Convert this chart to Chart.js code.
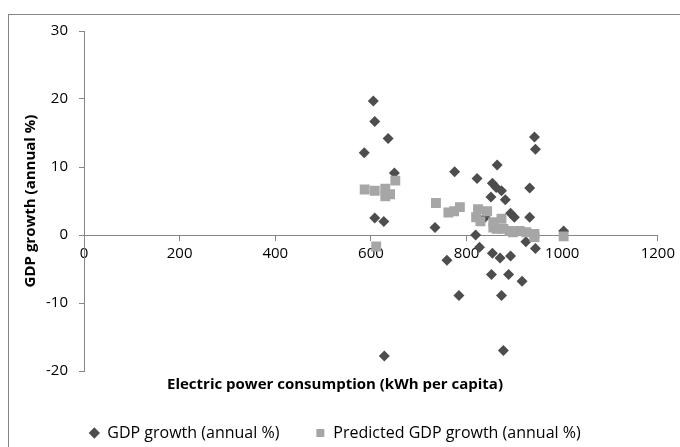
<!DOCTYPE html>
<html>
<head>
<meta charset="utf-8">
<script src="https://cdn.jsdelivr.net/npm/chart.js@4/dist/chart.umd.min.js"></script>
<style>
  html, body { margin: 0; padding: 0; background: #ffffff; }
  #wrap { width: 680px; height: 447px; }
</style>
</head>
<body>
<div id="wrap"><canvas id="chartjs-0"></canvas></div>
<script>
// GDP growth (annual %) vs electric power consumption (kWh per capita)
var gdpX = [605, 608, 636, 586, 649, 608, 627, 628, 775, 734, 759, 784, 822, 819, 827, 864, 854, 862, 873, 851, 881, 839, 892, 900, 854, 870, 892, 852, 888, 916, 873, 877, 942, 944, 932, 932, 924, 944, 1003];
var gdpY = [19.7, 16.7, 14.2, 12.1, 9.1, 2.5, 2.0, -17.8, 9.3, 1.1, -3.7, -8.9, 8.3, 0.0, -1.8, 10.3, 7.6, 7.0, 6.5, 5.6, 5.2, 2.6, 3.2, 2.6, -2.7, -3.4, -3.1, -5.8, -5.8, -6.8, -8.9, -17.0, 14.4, 12.6, 6.9, 2.6, -1.0, -2.0, 0.6];

var predX = [587, 608, 630, 630, 640, 651, 611, 736, 762, 774, 786, 824, 843, 820, 829, 856, 873, 856, 877, 890, 911, 925, 942, 942, 1003, 863, 897];
var predY = [6.7, 6.5, 6.8, 5.7, 6.0, 8.0, -1.7, 4.7, 3.3, 3.5, 4.1, 3.8, 3.5, 2.6, 2.0, 1.9, 2.4, 1.1, 0.9, 0.6, 0.6, 0.4, 0.15, -0.3, -0.2, 0.9, 0.4];

var seriesNames = ["GDP growth (annual %)", "Predicted GDP growth (annual %)"];
var xTitle = "Electric power consumption (kWh per capita)";
var yTitle = "GDP growth (annual %)";
var xTicks = [0, 200, 400, 600, 800, 1000, 1200];
var yTicks = [-20, -10, 0, 10, 20, 30];

function toPoints(xs, ys) {
  var pts = [];
  for (var i = 0; i < xs.length; i++) {
    pts.push({ x: xs[i], y: ys[i] });
  }
  return pts;
}

var axisGray = "#868686";
var font = "'Open Sans', 'Liberation Sans', sans-serif";

// white background + outer frame like the spreadsheet chart
var framePlugin = {
  id: "frame",
  beforeDraw: function (chart) {
    var ctx = chart.ctx;
    ctx.save();
    ctx.fillStyle = "#ffffff";
    ctx.fillRect(0, 0, chart.width, chart.height);
    ctx.strokeStyle = axisGray;
    ctx.lineWidth = 1;
    ctx.strokeRect(8.5, 14.5, chart.width + 10, chart.height + 10);
    ctx.restore();
  }
};

var ctx0 = document.getElementById("chartjs-0");
var myChart = new Chart(ctx0, {
  type: "scatter",
  data: {
    datasets: [
      {
        label: seriesNames[0],
        data: toPoints(gdpX, gdpY),
        pointStyle: "rectRot",
        pointRadius: 5.5,
        backgroundColor: "#4d4d4d",
        borderColor: "#4d4d4d",
        borderWidth: 0,
        order: 2
      },
      {
        label: seriesNames[1],
        data: toPoints(predX, predY),
        pointStyle: "rect",
        pointRadius: 7,
        backgroundColor: "#a6a6a6",
        borderColor: "#a6a6a6",
        borderWidth: 0,
        order: 1
      }
    ]
  },
  options: {
    responsive: true,
    maintainAspectRatio: false,
    animation: false,
    layout: {
      padding: { left: 10, right: 20, top: 31, bottom: 0 }
    },
    scales: {
      x: {
        type: "linear",
        position: { y: 0 },
        min: 0,
        max: 1200,
        afterBuildTicks: function (scale) {
          scale.ticks = xTicks.map(function (v) { return { value: v }; });
        },
        grid: {
          drawOnChartArea: false,
          drawTicks: true,
          tickLength: 5,
          color: axisGray
        },
        border: { display: true, color: axisGray, width: 1 },
        ticks: {
          color: "#000000",
          padding: 5,
          maxRotation: 0,
          font: { family: font, size: 15 },
          callback: function (value) { return String(value); }
        }
      },
      y: {
        type: "linear",
        position: "left",
        min: -20,
        max: 30,
        afterBuildTicks: function (scale) {
          scale.ticks = yTicks.map(function (v) { return { value: v }; });
        },
        afterFit: function (scale) {
          scale.width = 74;
        },
        grid: {
          drawOnChartArea: false,
          drawTicks: true,
          tickLength: 5,
          color: axisGray
        },
        border: { display: true, color: axisGray, width: 1 },
        ticks: {
          color: "#000000",
          padding: 11,
          font: { family: font, size: 15 },
          callback: function (value) { return String(value); }
        },
        title: {
          display: true,
          text: yTitle,
          color: "#000000",
          padding: { top: 12, bottom: 0 },
          font: { family: font, size: 15, weight: "bold" }
        }
      }
    },
    plugins: {
      title: {
        display: true,
        position: "bottom",
        weight: 500,
        text: xTitle,
        color: "#000000",
        padding: { top: 5, bottom: -5 },
        font: { family: font, size: 15, weight: "bold" }
      },
      legend: {
        display: true,
        position: "bottom",
        maxHeight: 58,
        labels: {
          usePointStyle: true,
          boxWidth: 10,
          boxHeight: 8,
          padding: 36,
          color: "#000000",
          font: { family: font, size: 16 },
          sort: function (a, b) { return a.datasetIndex - b.datasetIndex; }
        }
      },
      tooltip: { enabled: false }
    }
  },
  plugins: [framePlugin]
});
</script>
</body>
</html>
